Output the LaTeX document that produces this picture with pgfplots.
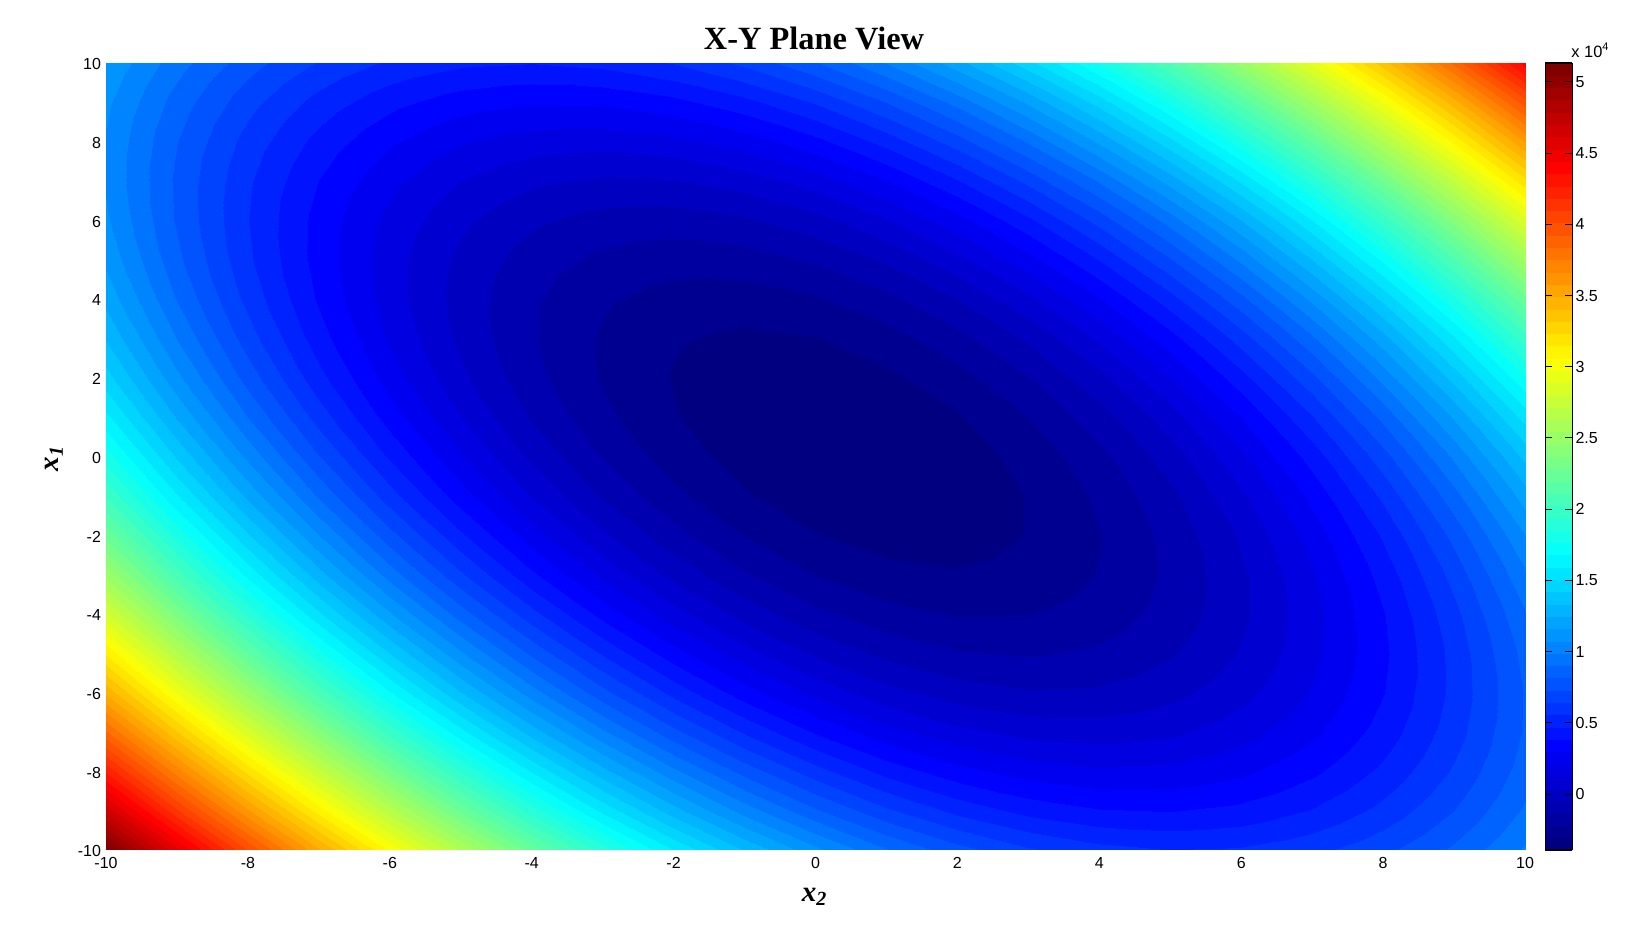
\documentclass[border=0pt]{standalone}
\usepackage{fontspec}
\setmainfont{Liberation Sans}
\newfontfamily\timesf{Liberation Serif}
\usepackage{pgfplots}
\pgfplotsset{compat=1.18}
\begin{document}
\begin{tikzpicture}
\path[use as bounding box] (0,0) rectangle (816pt,472.5pt);
\begin{axis}[
  at={(53pt,47.5pt)}, anchor=south west,
  scale only axis, width=709.5pt, height=393.5pt,
  view={0}{90},
  xmin=-10, xmax=10, ymin=-10, ymax=10,
  axis line style={draw=none},
  major tick style={draw=none},
  xtick={-10,-8,-6,-4,-2,0,2,4,6,8,10},
  ytick={-10,-8,-6,-4,-2,0,2,4,6,8,10},
  xticklabels={-10,-8,-6,-4,-2,0,2,4,6,8,10},
  yticklabels={-10,-8,-6,-4,-2,0,2,4,6,8,10},
  tick label style={font=\fontsize{8}{9}\selectfont},
  xticklabel style={yshift=0pt},
  yticklabel style={xshift=1pt,yshift=-0.7pt},
  colormap/jet,
  point meta min=-3930, point meta max=51330,
  colorbar sampled,
  colorbar style={
    at={(parent axis.south east)}, anchor=south west, xshift=1.7pt,
    width=13.5pt, height=393.5pt, scale only axis,
    samples=65,
    ymin=-3930, ymax=51330,
    scaled y ticks=false,
    ytick={0,5000,10000,15000,20000,25000,30000,35000,40000,45000,50000},
    yticklabels={0,0.5,1,1.5,2,2.5,3,3.5,4,4.5,5},
    tick align=inside, ytick pos=both, yticklabel pos=right,
    major tick length=3.5pt,
    major tick style={draw=black, line width=0.5pt},
    axis line style={draw=black, line width=0.6pt},
    yticklabel style={font=\fontsize{8}{9}\selectfont, xshift=-2pt},
  },
]
\addplot3[contour filled={number=64}, mesh/cols=21] table[row sep=\\] {
x y z\\
-10 -10 51300\\ -9 -10 45500\\ -8 -10 40092\\ -7 -10 35078\\ -6 -10 30458\\ -5 -10 26230\\ -4 -10 22396\\ -3 -10 18954\\ -2 -10 15906\\ -1 -10 13252\\ 0 -10 10990\\ 1 -10 9122\\ 2 -10 7646\\ 3 -10 6564\\ 4 -10 5876\\ 5 -10 5580\\ 6 -10 5678\\ 7 -10 6168\\ 8 -10 7052\\ 9 -10 8330\\ 10 -10 10000\\
-10 -9 46764\\ -9 -9 41148\\ -8 -9 35925\\ -7 -9 31096\\ -6 -9 26660\\ -5 -9 22617\\ -4 -9 18967\\ -3 -9 15710\\ -2 -9 12846\\ -1 -9 10376\\ 0 -9 8299\\ 1 -9 6615\\ 2 -9 5324\\ 3 -9 4427\\ 4 -9 3923\\ 5 -9 3812\\ 6 -9 4094\\ 7 -9 4769\\ 8 -9 5837\\ 9 -9 7299\\ 10 -9 9154\\
-10 -8 42496\\ -9 -8 37065\\ -8 -8 32026\\ -7 -8 27381\\ -6 -8 23130\\ -5 -8 19271\\ -4 -8 15806\\ -3 -8 12733\\ -2 -8 10054\\ -1 -8 7769\\ 0 -8 5876\\ 1 -8 4377\\ 2 -8 3270\\ 3 -8 2557\\ 4 -8 2238\\ 5 -8 2311\\ 6 -8 2778\\ 7 -8 3637\\ 8 -8 4890\\ 9 -8 6537\\ 10 -8 8576\\
-10 -7 38496\\ -9 -7 33249\\ -8 -7 28395\\ -7 -7 23935\\ -6 -7 19868\\ -5 -7 16194\\ -4 -7 12913\\ -3 -7 10025\\ -2 -7 7530\\ -1 -7 5429\\ 0 -7 3721\\ 1 -7 2406\\ 2 -7 1484\\ 3 -7 956\\ 4 -7 821\\ 5 -7 1079\\ 6 -7 1730\\ 7 -7 2774\\ 8 -7 4211\\ 9 -7 6042\\ 10 -7 8266\\
-10 -6 34764\\ -9 -6 29702\\ -8 -6 25032\\ -7 -6 20756\\ -6 -6 16874\\ -5 -6 13384\\ -4 -6 10288\\ -3 -6 7584\\ -2 -6 5274\\ -1 -6 3358\\ 0 -6 1834\\ 1 -6 704\\ 2 -6 -34\\ 3 -6 -378\\ 4 -6 -328\\ 5 -6 114\\ 6 -6 950\\ 7 -6 2178\\ 8 -6 3800\\ 9 -6 5816\\ 10 -6 8224\\
-10 -5 31300\\ -9 -5 26422\\ -8 -5 21937\\ -7 -5 17846\\ -6 -5 14148\\ -5 -5 10843\\ -4 -5 7931\\ -3 -5 5412\\ -2 -5 3286\\ -1 -5 1554\\ 0 -5 215\\ 1 -5 -731\\ 2 -5 -1284\\ 3 -5 -1443\\ 4 -5 -1209\\ 5 -5 -583\\ 6 -5 438\\ 7 -5 1851\\ 8 -5 3657\\ 9 -5 5857\\ 10 -5 8450\\
-10 -4 28104\\ -9 -4 23411\\ -8 -4 19110\\ -7 -4 15203\\ -6 -4 11690\\ -5 -4 8569\\ -4 -4 5842\\ -3 -4 3507\\ -2 -4 1566\\ -1 -4 19\\ 0 -4 -1136\\ 1 -4 -1897\\ 2 -4 -2266\\ 3 -4 -2241\\ 4 -4 -1822\\ 5 -4 -1011\\ 6 -4 194\\ 7 -4 1791\\ 8 -4 3782\\ 9 -4 6167\\ 10 -4 8944\\
-10 -3 25176\\ -9 -3 20667\\ -8 -3 16551\\ -7 -3 12829\\ -6 -3 9500\\ -5 -3 6564\\ -4 -3 4021\\ -3 -3 1871\\ -2 -3 114\\ -1 -3 -1249\\ 0 -3 -2219\\ 1 -3 -2796\\ 2 -3 -2980\\ 3 -3 -2770\\ 4 -3 -2167\\ 5 -3 -1172\\ 6 -3 218\\ 7 -3 2000\\ 8 -3 4175\\ 9 -3 6744\\ 10 -3 9706\\
-10 -2 22516\\ -9 -2 18192\\ -8 -2 14260\\ -7 -2 10722\\ -6 -2 7578\\ -5 -2 4826\\ -4 -2 2468\\ -3 -2 502\\ -2 -2 -1070\\ -1 -2 -2248\\ 0 -2 -3034\\ 1 -2 -3426\\ 2 -2 -3426\\ 3 -2 -3032\\ 4 -2 -2244\\ 5 -2 -1064\\ 6 -2 510\\ 7 -2 2476\\ 8 -2 4836\\ 9 -2 7590\\ 10 -2 10736\\
-10 -1 20124\\ -9 -1 15984\\ -8 -1 12237\\ -7 -1 8884\\ -6 -1 5924\\ -5 -1 3357\\ -4 -1 1183\\ -3 -1 -598\\ -2 -1 -1986\\ -1 -1 -2980\\ 0 -1 -3581\\ 1 -1 -3789\\ 2 -1 -3604\\ 3 -1 -3025\\ 4 -1 -2053\\ 5 -1 -689\\ 6 -1 1070\\ 7 -1 3221\\ 8 -1 5765\\ 9 -1 8703\\ 10 -1 12034\\
-10 0 18000\\ -9 0 14045\\ -8 0 10482\\ -7 0 7313\\ -6 0 4538\\ -5 0 2155\\ -4 0 166\\ -3 0 -1431\\ -2 0 -2634\\ -1 0 -3443\\ 0 0 -3860\\ 1 0 -3883\\ 2 0 -3514\\ 3 0 -2751\\ 4 0 -1594\\ 5 0 -45\\ 6 0 1898\\ 7 0 4233\\ 8 0 6962\\ 9 0 10085\\ 10 0 13600\\
-10 1 16144\\ -9 1 12373\\ -8 1 8995\\ -7 1 6011\\ -6 1 3420\\ -5 1 1222\\ -4 1 -583\\ -3 1 -1995\\ -2 1 -3014\\ -1 1 -3639\\ 0 1 -3871\\ 1 1 -3710\\ 2 1 -3156\\ 3 1 -2208\\ 4 1 -867\\ 5 1 867\\ 6 1 2994\\ 7 1 5514\\ 8 1 8427\\ 9 1 11734\\ 10 1 15434\\
-10 2 14556\\ -9 2 10970\\ -8 2 7776\\ -7 2 4976\\ -6 2 2570\\ -5 2 556\\ -4 2 -1064\\ -3 2 -2292\\ -2 2 -3126\\ -1 2 -3566\\ 0 2 -3614\\ 1 2 -3268\\ 2 2 -2530\\ 3 2 -1398\\ 4 2 128\\ 5 2 2046\\ 6 2 4358\\ 7 2 7062\\ 8 2 10160\\ 9 2 13652\\ 10 2 17536\\
-10 3 13236\\ -9 3 9834\\ -8 3 6825\\ -7 3 4210\\ -6 3 1988\\ -5 3 159\\ -4 3 -1277\\ -3 3 -2320\\ -2 3 -2970\\ -1 3 -3226\\ 0 3 -3089\\ 1 3 -2559\\ 2 3 -1636\\ 3 3 -319\\ 4 3 1391\\ 5 3 3494\\ 6 3 5990\\ 7 3 8879\\ 8 3 12161\\ 9 3 15837\\ 10 3 19906\\
-10 4 12184\\ -9 4 8967\\ -8 4 6142\\ -7 4 3711\\ -6 4 1674\\ -5 4 29\\ -4 4 -1222\\ -3 4 -2081\\ -2 4 -2546\\ -1 4 -2617\\ 0 4 -2296\\ 1 4 -1581\\ 2 4 -474\\ 3 4 1027\\ 4 4 2922\\ 5 4 5209\\ 6 4 7890\\ 7 4 10963\\ 8 4 14430\\ 9 4 18291\\ 10 4 22544\\
-10 5 11400\\ -9 5 8367\\ -8 5 5727\\ -7 5 3481\\ -6 5 1628\\ -5 5 168\\ -4 5 -899\\ -3 5 -1573\\ -2 5 -1854\\ -1 5 -1741\\ 0 5 -1235\\ 1 5 -336\\ 2 5 956\\ 3 5 2642\\ 4 5 4721\\ 5 5 7193\\ 6 5 10058\\ 7 5 13316\\ 8 5 16967\\ 9 5 21012\\ 10 5 25450\\
-10 6 10884\\ -9 6 8036\\ -8 6 5580\\ -7 6 3518\\ -6 6 1850\\ -5 6 574\\ -4 6 -308\\ -3 6 -798\\ -2 6 -894\\ -1 6 -596\\ 0 6 94\\ 1 6 1178\\ 2 6 2654\\ 3 6 4524\\ 4 6 6788\\ 5 6 9444\\ 6 6 12494\\ 7 6 15936\\ 8 6 19772\\ 9 6 24002\\ 10 6 28624\\
-10 7 10636\\ -9 7 7972\\ -8 7 5701\\ -7 7 3824\\ -6 7 2340\\ -5 7 1249\\ -4 7 551\\ -3 7 246\\ -2 7 334\\ -1 7 816\\ 0 7 1691\\ 1 7 2959\\ 2 7 4620\\ 3 7 6675\\ 4 7 9123\\ 5 7 11964\\ 6 7 15198\\ 7 7 18825\\ 8 7 22845\\ 9 7 27259\\ 10 7 32066\\
-10 8 10656\\ -9 8 8177\\ -8 8 6090\\ -7 8 4397\\ -6 8 3098\\ -5 8 2191\\ -4 8 1678\\ -3 8 1557\\ -2 8 1830\\ -1 8 2497\\ 0 8 3556\\ 1 8 5009\\ 2 8 6854\\ 3 8 9093\\ 4 8 11726\\ 5 8 14751\\ 6 8 18170\\ 7 8 21981\\ 8 8 26186\\ 9 8 30785\\ 10 8 35776\\
-10 9 10944\\ -9 9 8649\\ -8 9 6747\\ -7 9 5239\\ -6 9 4124\\ -5 9 3402\\ -4 9 3073\\ -3 9 3137\\ -2 9 3594\\ -1 9 4445\\ 0 9 5689\\ 1 9 7326\\ 2 9 9356\\ 3 9 11780\\ 4 9 14597\\ 5 9 17807\\ 6 9 21410\\ 7 9 25406\\ 8 9 29795\\ 9 9 34578\\ 10 9 39754\\
-10 10 11500\\ -9 10 9390\\ -8 10 7672\\ -7 10 6348\\ -6 10 5418\\ -5 10 4880\\ -4 10 4736\\ -3 10 4984\\ -2 10 5626\\ -1 10 6662\\ 0 10 8090\\ 1 10 9912\\ 2 10 12126\\ 3 10 14734\\ 4 10 17736\\ 5 10 21130\\ 6 10 24918\\ 7 10 29098\\ 8 10 33672\\ 9 10 38640\\ 10 10 44000\\
};
\end{axis}
\node[font=\timesf\bfseries\fontsize{16.2}{20}\selectfont] at (407pt,453pt) {X-Y Plane View};
\node[font=\timesf\bfseries\itshape\fontsize{14.5}{15}\selectfont] at (407pt,24pt) {x\raisebox{-0.35ex}{\fontsize{10}{10}\selectfont 2}};
\node[rotate=90,font=\timesf\bfseries\itshape\fontsize{14.5}{15}\selectfont] at (27pt,243pt) {x\raisebox{-0.35ex}{\fontsize{10}{10}\selectfont 1}};
\node[font=\fontsize{8.2}{9}\selectfont,anchor=south west,inner sep=0pt] at (785.5pt,443.5pt) {x 10\raisebox{0.8ex}{\fontsize{5.5}{6}\selectfont 4}};
\end{tikzpicture}
\end{document}
